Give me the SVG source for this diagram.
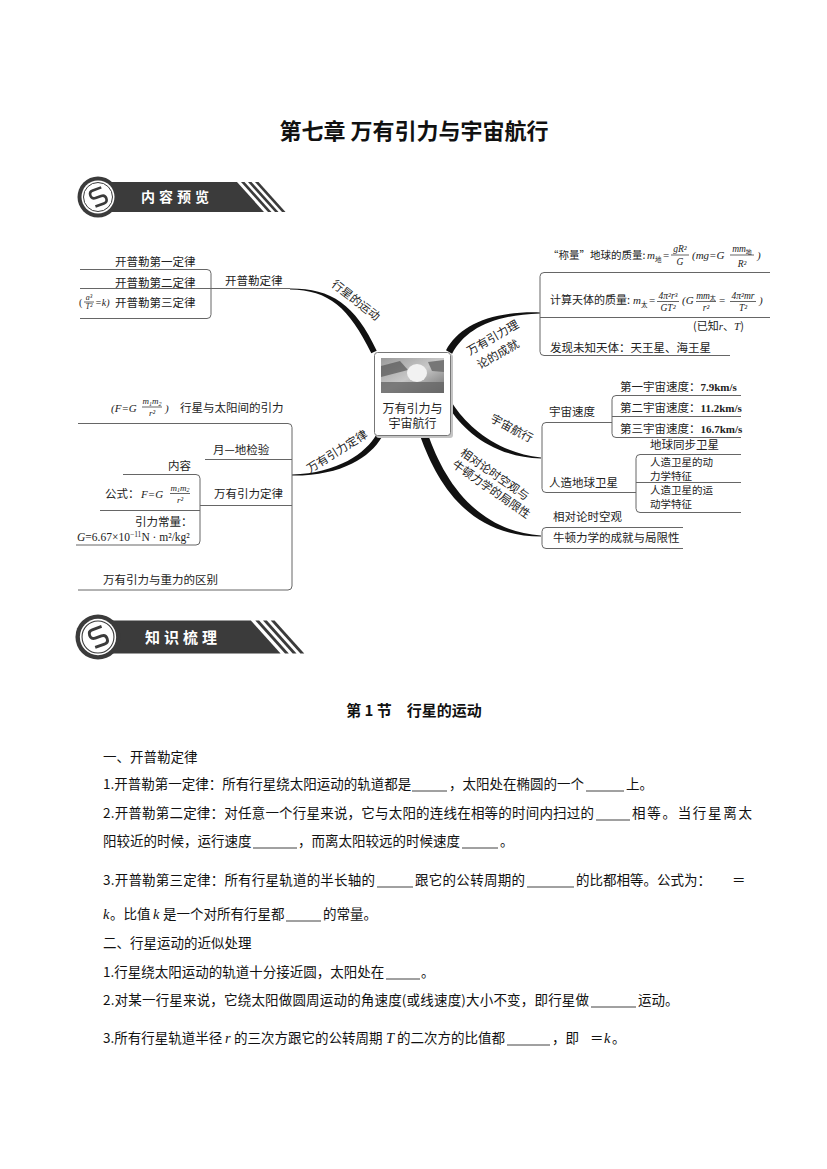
<svg xmlns="http://www.w3.org/2000/svg" width="827" height="1169" viewBox="0 0 827 1169">
<style>
.mm{font-family:"Noto Sans CJK SC","Noto Sans",sans-serif;font-size:11.5px;fill:#222}
.fi{font-family:"Liberation Serif",serif;font-style:italic;fill:#222}
.fr{font-family:"Liberation Serif",serif;fill:#222}
.ln{stroke:#666;stroke-width:1;fill:none}
.bar{stroke:#222;stroke-width:0.7}
.thick{fill:#111}
.body{font-family:"Noto Sans CJK SC","Noto Sans",sans-serif;font-size:13.5px;fill:#111}
.bi{font-family:"Liberation Serif",serif;font-style:italic;font-size:14.5px;fill:#111}
.blank{stroke:#111;stroke-width:0.8}
.ban{font-family:"Noto Sans CJK SC",sans-serif;font-weight:bold;fill:#fff}
</style>
<defs>
<linearGradient id="photo" x1="0" y1="0" x2="1" y2="1">
<stop offset="0" stop-color="#9a9a9a"/>
<stop offset="0.5" stop-color="#c8c8c8"/>
<stop offset="1" stop-color="#6e6e6e"/>
</linearGradient>
<g id="banner">
<polygon points="10,-15 139,-15 166,15 10,15" fill="#3b3b3b"/>
<polygon points="143,-15 146.5,-15 173.5,15 170,15" fill="#3b3b3b"/>
<polygon points="150,-15 153.5,-15 180.5,15 177,15" fill="#3b3b3b"/>
<polygon points="157,-15 160.5,-15 187.5,15 184,15" fill="#3b3b3b"/>
<circle r="20.5" fill="#3b3b3b"/>
<circle r="16.5" fill="#fff"/>
<circle r="14.5" fill="none" stroke="#3b3b3b" stroke-width="1"/>
<path d="M6,-7 H-3 Q-7,-7 -7,-3 Q-7,1 -3,1 H3 Q7,1 7,5 Q7,9 3,9 H-6" transform="translate(0,-1) rotate(-20)" stroke="#3b3b3b" stroke-width="2.6" fill="none"/>
</g>
</defs>
<rect width="827" height="1169" fill="#fff"/>

<text x="414" y="139" text-anchor="middle" style="font-family:'Noto Sans CJK SC',sans-serif;font-size:22px;font-weight:bold;fill:#111">第七章 万有引力与宇宙航行</text>

<g id="banner1">
<use href="#banner" x="98" y="197"/>
<text class="ban" x="177" y="202" text-anchor="middle" style="font-size:14px;letter-spacing:4px">内容预览</text>
</g>

<g id="connectors">
<path class="thick" d="M290,288.4 C331,288.2 355,304 376.7,350.7 L371.3,353.3 C349,308 329,290 290,289.6 Z"/>
<path class="thick" d="M446,350.3 C459,326 489,311 540,312.4 L540,313.4 C491,315 465,330 452.1,353.7 Z"/>
<path class="thick" d="M453.1,404.6 C467,426 497,453 541,457.4 L541,458.6 C493,457 463,430 448.9,407.4 Z"/>
<path class="thick" d="M427.8,433.7 C443,478 475,531 541,535.4 L541,536.6 C467,536 437,482 420.2,436.3 Z"/>
<path class="thick" d="M381.6,437.5 C370,457 342,476 292,475.6 L292,474.6 C338,473 366,453 376.4,434.5 Z"/>
<path class="ln" d="M80,269.5 H207 Q211,269.5 211,273.5 V314.5 Q211,318.5 207,318.5 H80"/>
<path class="ln" d="M80,288.5 H290"/>
<path class="ln" d="M770,272.5 H544 Q540,272.5 540,276.5 V351.5 Q540,355.5 544,355.5 H730"/>
<path class="ln" d="M540,317.5 H770"/>
<path class="ln" d="M612,422.5 H546 Q542,422.5 542,426.5 V488.5 Q542,492.5 546,492.5 H636"/>
<path class="ln" d="M741,395.5 H616 Q612,395.5 612,399.5 V433.5 Q612,437.5 616,437.5 H741 M612,416.5 H741"/>
<path class="ln" d="M741,454.5 H640 Q636,454.5 636,458.5 V508.5 Q636,512.5 640,512.5 H741 M636,482.5 H741"/>
<path class="ln" d="M683,527.5 H546 Q542,527.5 542,531.5 V544.5 Q542,548.5 546,548.5 H683"/>
<path class="ln" d="M78,423.5 H288 Q292,423.5 292,427.5 V586 Q292,590 288,590 H78"/>
<path class="ln" d="M205,459.5 H292 M200,505.5 H292"/>
<path class="ln" d="M123,474.5 H196 Q200,474.5 200,478.5 V541 Q200,545 196,545 H76 M100,510.5 H200"/>
</g>

<g id="center-node">
<rect x="376" y="354" width="77" height="84" rx="3" fill="#c4c4c4"/>
<rect x="374.5" y="352.5" width="76" height="83" rx="3" fill="#fff" stroke="#777" stroke-width="1"/>
<rect x="381" y="358" width="63" height="35" fill="url(#photo)"/>
<rect x="381" y="382" width="63" height="11" fill="#666" opacity="0.8"/>
<polygon points="381,366 400,361 408,370 381,377" fill="#555" opacity="0.7"/>
<ellipse cx="417" cy="373" rx="10" ry="9" fill="#f2f2f2"/>
<polygon points="428,362 444,360 444,372 432,371" fill="#777"/>
<text class="mm" x="412.5" y="412.5" text-anchor="middle" style="font-size:12px">万有引力与</text>
<text class="mm" x="412.5" y="428" text-anchor="middle" style="font-size:12px">宇宙航行</text>
</g>

<g id="branch-planet-motion">
<text class="mm" transform="translate(356,300) rotate(38)" x="0" y="4.4" text-anchor="middle">行星的运动</text>
<text class="mm" x="225" y="285">开普勒定律</text>
<text class="mm" x="115" y="266">开普勒第一定律</text>
<text class="mm" x="115" y="287">开普勒第二定律</text>
<text class="fr" x="79" y="306" style="font-size:10px">(</text>
<text class="fi" x="89" y="299.5" text-anchor="middle" style="font-size:8px">a³</text>
<line class="bar" x1="84" y1="302" x2="94" y2="302"/>
<text class="fi" x="89" y="309" text-anchor="middle" style="font-size:8px">T²</text>
<text class="fi" x="95" y="306" style="font-size:10px">=k)</text>
<text class="mm" x="115" y="307">开普勒第三定律</text>
</g>

<g id="branch-achievements">
<g transform="translate(495,345) rotate(-30)">
<text class="mm" x="-27" y="-3.5">万有引力理</text>
<text class="mm" x="-25" y="13.5">论的成就</text>
</g>
<text class="mm" x="548" y="259" style="font-size:10.5px">“称量”地球的质量:</text>
<text class="fi" x="647" y="259" style="font-size:11px">m</text>
<text class="mm" x="655" y="262" style="font-size:6.5px">地</text>
<text class="fr" x="663" y="259" style="font-size:11px">=</text>
<text class="fi" x="680" y="252" text-anchor="middle" style="font-size:9.5px">gR²</text>
<line class="bar" x1="671" y1="255" x2="689" y2="255"/>
<text class="fi" x="680" y="265" text-anchor="middle" style="font-size:9.5px">G</text>
<text class="fi" x="692" y="259" style="font-size:11px">(mg=G</text>
<text class="fi" x="742" y="252" text-anchor="middle" style="font-size:9.5px">mm<tspan style="font-family:'Noto Sans CJK SC',sans-serif;font-style:normal;font-size:6px" dy="1.5">地</tspan></text>
<line class="bar" x1="730" y1="255" x2="754" y2="255"/>
<text class="fi" x="742" y="266.5" text-anchor="middle" style="font-size:9.5px">R²</text>
<text class="fi" x="757" y="259" style="font-size:11px">)</text>

<text class="mm" x="550" y="304" style="font-size:11px">计算天体的质量:</text>
<text class="fi" x="633" y="304" style="font-size:11px">m</text>
<text class="mm" x="641" y="307" style="font-size:6.5px">太</text>
<text class="fr" x="649" y="304" style="font-size:11px">=</text>
<text class="fi" x="668" y="298.5" text-anchor="middle" style="font-size:9.5px">4π²r³</text>
<line class="bar" x1="657" y1="301.5" x2="679" y2="301.5"/>
<text class="fi" x="668" y="310.5" text-anchor="middle" style="font-size:9.5px">GT²</text>
<text class="fi" x="682" y="304" style="font-size:11px">(G</text>
<text class="fi" x="706" y="298.5" text-anchor="middle" style="font-size:9.5px">mm<tspan style="font-family:'Noto Sans CJK SC',sans-serif;font-style:normal;font-size:6px" dy="1.5">太</tspan></text>
<line class="bar" x1="696" y1="301.5" x2="716" y2="301.5"/>
<text class="fi" x="706" y="310.5" text-anchor="middle" style="font-size:9.5px">r²</text>
<text class="fr" x="719" y="304" style="font-size:11px">=</text>
<text class="fi" x="743" y="298.5" text-anchor="middle" style="font-size:9.5px">4π²mr</text>
<line class="bar" x1="730" y1="301.5" x2="756" y2="301.5"/>
<text class="fi" x="743" y="310.5" text-anchor="middle" style="font-size:9.5px">T²</text>
<text class="fi" x="759" y="304" style="font-size:11px">)</text>
<text class="mm" x="693" y="330" style="font-size:11px">(已知<tspan class="fi">r</tspan>、<tspan class="fi">T</tspan>)</text>
<text class="mm" x="550" y="351.5">发现未知天体：天王星、海王星</text>
</g>

<g id="branch-space-flight">
<text class="mm" transform="translate(512,428) rotate(28)" x="0" y="4.4" text-anchor="middle">宇宙航行</text>
<text class="mm" x="549" y="416">宇宙速度</text>
<text class="mm" x="549" y="487">人造地球卫星</text>
<text class="mm" x="620" y="391">第一宇宙速度：<tspan class="fr" style="font-weight:bold;font-size:11px">7.9km/s</tspan></text>
<text class="mm" x="620" y="412">第二宇宙速度：<tspan class="fr" style="font-weight:bold;font-size:11px">11.2km/s</tspan></text>
<text class="mm" x="620" y="433">第三宇宙速度：<tspan class="fr" style="font-weight:bold;font-size:11px">16.7km/s</tspan></text>
<text class="mm" x="650" y="449">地球同步卫星</text>
<text class="mm" x="650" y="466" style="font-size:10.5px">人造卫星的动</text>
<text class="mm" x="650" y="479.5" style="font-size:10.5px">力学特征</text>
<text class="mm" x="650" y="494" style="font-size:10.5px">人造卫星的运</text>
<text class="mm" x="650" y="507.5" style="font-size:10.5px">动学特征</text>
</g>

<g id="branch-relativity">
<g transform="translate(494,482) rotate(35)">
<text class="mm" x="-44" y="-2.7">相对论时空观与</text>
<text class="mm" x="-44" y="11.5">牛顿力学的局限性</text>
</g>
<text class="mm" x="553" y="521">相对论时空观</text>
<text class="mm" x="553" y="542">牛顿力学的成就与局限性</text>
</g>

<g id="branch-gravitation">
<text class="mm" transform="translate(337,451) rotate(-32)" x="0" y="4.4" text-anchor="middle">万有引力定律</text>
<text class="fi" x="111" y="412" style="font-size:11px">(F=G</text>
<text class="fi" x="152" y="404" text-anchor="middle" style="font-size:9px">m<tspan style="font-size:6px" dy="1.5">1</tspan><tspan dy="-1.5">m</tspan><tspan style="font-size:6px" dy="1.5">2</tspan></text>
<line class="bar" x1="142" y1="407" x2="162" y2="407"/>
<text class="fi" x="152" y="416" text-anchor="middle" style="font-size:9px">r²</text>
<text class="fi" x="165" y="412" style="font-size:11px">)</text>
<text class="mm" x="180" y="412">行星与太阳间的引力</text>
<text class="mm" x="213" y="454">月—地检验</text>
<text class="mm" x="214" y="498">万有引力定律</text>
<text class="mm" x="168" y="470">内容</text>
<text class="mm" x="105" y="498">公式：</text>
<text class="fi" x="141" y="498" style="font-size:11px">F=G</text>
<text class="fi" x="180" y="490.5" text-anchor="middle" style="font-size:9px">m<tspan style="font-size:6px" dy="1.5">1</tspan><tspan dy="-1.5">m</tspan><tspan style="font-size:6px" dy="1.5">2</tspan></text>
<line class="bar" x1="170" y1="493.5" x2="190" y2="493.5"/>
<text class="fi" x="180" y="503" text-anchor="middle" style="font-size:9px">r²</text>
<text class="mm" x="135" y="526">引力常量：</text>
<text class="fr" x="77" y="541" style="font-size:11.5px"><tspan class="fi">G</tspan>=6.67×10<tspan style="font-size:7.5px" dy="-4">−11</tspan><tspan dy="4">N · m²/kg²</tspan></text>
<text class="mm" x="103" y="584">万有引力与重力的区别</text>
</g>

<g id="banner2">
<use href="#banner" transform="translate(98,637) scale(1.1)"/>
<text class="ban" x="183" y="642.5" text-anchor="middle" style="font-size:15px;letter-spacing:4px">知识梳理</text>
</g>

<g id="section-text">
<text x="414" y="716" text-anchor="middle" style="font-family:'Noto Sans CJK SC',sans-serif;font-size:15px;font-weight:bold;fill:#111">第 1 节　行星的运动</text>
<text class="body" x="103" y="762">一、开普勒定律</text>
<text class="body" x="103" y="789">1.开普勒第一定律：所有行星绕太阳运动的轨道都是</text>
<line class="blank" x1="412" y1="791" x2="447" y2="791"/>
<text class="body" x="449" y="789">，太阳处在椭圆的一个</text>
<line class="blank" x1="586" y1="791" x2="624" y2="791"/>
<text class="body" x="626" y="789">上。</text>

<text class="body" x="103" y="818" textLength="491" lengthAdjust="spacing">2.开普勒第二定律：对任意一个行星来说，它与太阳的连线在相等的时间内扫过的</text>
<line class="blank" x1="596" y1="820" x2="630" y2="820"/>
<text class="body" x="632" y="818" textLength="120" lengthAdjust="spacing">相等。当行星离太</text>
<text class="body" x="103" y="846">阳较近的时候，运行速度</text>
<line class="blank" x1="253" y1="848" x2="297" y2="848"/>
<text class="body" x="298" y="846">，而离太阳较远的时候速度</text>
<line class="blank" x1="462" y1="848" x2="498" y2="848"/>
<text class="body" x="500" y="846">。</text>

<text class="body" x="103" y="885" textLength="272" lengthAdjust="spacing">3.开普勒第三定律：所有行星轨道的半长轴的</text>
<line class="blank" x1="377" y1="887" x2="413" y2="887"/>
<text class="body" x="415" y="885" textLength="110" lengthAdjust="spacing">跟它的公转周期的</text>
<line class="blank" x1="527" y1="887" x2="574" y2="887"/>
<text class="body" x="576" y="885">的比都相等。公式为：</text>
<text class="body" x="732" y="885">＝</text>
<text class="bi" x="103" y="919">k</text>
<text class="body" x="110" y="919">。比值</text>
<text class="bi" x="153" y="919">k</text>
<text class="body" x="163" y="919">是一个对所有行星都</text>
<line class="blank" x1="286" y1="921" x2="321" y2="921"/>
<text class="body" x="323" y="919">的常量。</text>

<text class="body" x="103" y="948">二、行星运动的近似处理</text>
<text class="body" x="103" y="977">1.行星绕太阳运动的轨道十分接近圆，太阳处在</text>
<line class="blank" x1="386" y1="979" x2="420" y2="979"/>
<text class="body" x="421" y="977">。</text>
<text class="body" x="103" y="1005" textLength="486" lengthAdjust="spacing">2.对某一行星来说，它绕太阳做圆周运动的角速度(或线速度)大小不变，即行星做</text>
<line class="blank" x1="591" y1="1007" x2="636" y2="1007"/>
<text class="body" x="638" y="1005">运动。</text>
<text class="body" x="103" y="1043">3.所有行星轨道半径</text>
<text class="bi" x="225" y="1043">r</text>
<text class="body" x="234" y="1043">的三次方跟它的公转周期</text>
<text class="bi" x="386" y="1043">T</text>
<text class="body" x="397" y="1043">的二次方的比值都</text>
<line class="blank" x1="507" y1="1045" x2="550" y2="1045"/>
<text class="body" x="552" y="1043">，即</text>
<text class="body" x="590" y="1043">＝</text>
<text class="bi" x="604" y="1043">k</text>
<text class="body" x="612" y="1043">。</text>
</g>
</svg>
